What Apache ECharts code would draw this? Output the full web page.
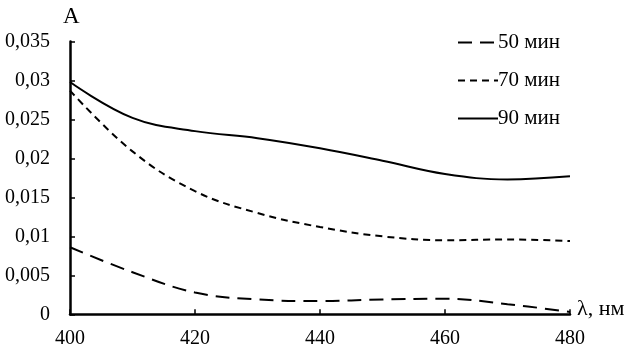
<!DOCTYPE html>
<html><head><meta charset="utf-8">
<script src="https://cdn.jsdelivr.net/npm/echarts@6/dist/echarts.min.js"></script>
<style>html,body{margin:0;padding:0;background:#fff}#c{width:644px;height:356px}</style>
</head><body><div id="c"></div>
<script>
const wavelengths = [400, 410, 420, 430, 440, 450, 460, 470, 480];
const s50 = [0.0086, 0.0054, 0.0028, 0.0019, 0.0017, 0.0019, 0.0020, 0.0013, 0.0003];
const s70 = [0.0287, 0.0209, 0.0158, 0.0130, 0.0112, 0.0100, 0.0095, 0.0096, 0.0094];
const s90 = [0.0298, 0.0252, 0.0235, 0.0226, 0.0213, 0.0197, 0.0180, 0.0173, 0.0177];
const seriesNames = ['50 мин', '70 мин', '90 мин'];
const xTicks = [400, 420, 440, 460, 480];
const yTicks = [0, 0.005, 0.01, 0.015, 0.02, 0.025, 0.03, 0.035];

const FONT = '"Liberation Serif", "Times New Roman", serif';
const pairs = a => wavelengths.map((w, i) => [w, a[i]]);
const chart = echarts.init(document.getElementById('c'), null, {renderer: 'canvas'});
const mk = (name, data, type) => ({
  name, type: 'line', data: pairs(data), smooth: 0.4, symbol: 'none', showSymbol: false,
  lineStyle: {color: '#000', width: 2, type},
  itemStyle: {color: '#000'}
});
chart.setOption({
  animation: false,
  grid: {left: 70, right: 74, top: 41.5, bottom: 41.7, containLabel: false},
  legend: {
    orient: 'vertical', left: 452, top: 27, itemWidth: 40, itemHeight: 14, itemGap: 17,
    data: seriesNames,
    itemStyle: {color: 'transparent', borderColor: 'transparent', borderWidth: 0},
    textStyle: {fontFamily: FONT, fontSize: 21, lineHeight: 16, color: '#000', padding: [0,0,0,-5]}
  },
  xAxis: {
    type: 'value', min: xTicks[0], max: xTicks[xTicks.length - 1], interval: 20,
    axisLine: {lineStyle: {color: '#000', width: 2.5}},
    axisTick: {inside: true, length: 5, lineStyle: {color: '#000', width: 1.5}},
    axisLabel: {fontFamily: FONT, fontSize: 20, color: '#000', margin: 14},
    splitLine: {show: false}
  },
  yAxis: {
    type: 'value', min: 0, max: yTicks[yTicks.length - 1], interval: 0.005,
    axisLine: {show: true, lineStyle: {color: '#000', width: 2.5}},
    axisTick: {show: true, inside: true, length: 5, lineStyle: {color: '#000', width: 1.5}},
    axisLabel: {fontFamily: FONT, fontSize: 20, color: '#000', margin: 20,
      formatter: v => v === 0 ? '0' : String(+v.toFixed(3)).replace('.', ',')},
    splitLine: {show: false}
  },
  graphic: [
    {type: 'text', left: 63, top: 5, style: {text: 'A', font: '23px ' + FONT, fill: '#000'}},
    {type: 'text', left: 577, top: 298, style: {text: 'λ, нм', font: '22px ' + FONT, fill: '#000'}}
  ],
  series: [
    mk(seriesNames[0], s50, [14, 8]),
    mk(seriesNames[1], s70, [7, 5]),
    mk(seriesNames[2], s90, 'solid')
  ]
});
</script></body></html>
